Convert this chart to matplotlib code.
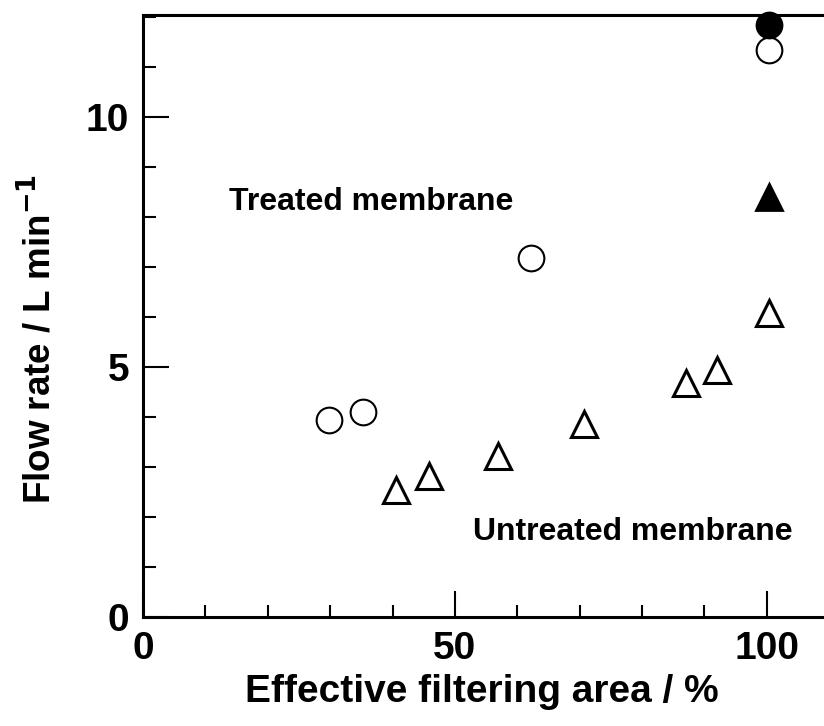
import matplotlib
matplotlib.use("Agg")
import matplotlib.pyplot as plt
from matplotlib.ticker import MultipleLocator

# Data
treated_open_x = [29.8, 35.3, 62.2, 100.3]
treated_open_y = [3.95, 4.10, 7.18, 11.34]
treated_filled_x = [100.3]
treated_filled_y = [11.84]
untreated_open_x = [40.5, 45.8, 56.9, 70.7, 87.0, 92.0, 100.3]
untreated_open_y = [2.54, 2.82, 3.22, 3.86, 4.68, 4.94, 6.08]
untreated_filled_x = [100.3]
untreated_filled_y = [8.40]

x_ticks = [0, 50, 100]
y_ticks = [0, 5, 10]

plt.rcParams['font.family'] = ['Liberation Sans', 'DejaVu Sans']
plt.rcParams['font.weight'] = 'bold'
plt.rcParams['mathtext.default'] = 'bf'

fig = plt.figure(figsize=(8.24, 7.26), dpi=100)
ax = fig.add_axes([143/824, 109/726, (823-143)/824, (617-15)/726])

ax.plot(treated_open_x, treated_open_y, 'o', ms=18.5, mfc='white', mec='black', mew=1.5, clip_on=False, zorder=3)
ax.plot(treated_filled_x, treated_filled_y, 'o', ms=18.5, mfc='black', mec='black', mew=1.5, clip_on=False, zorder=3)
ax.plot(untreated_open_x, untreated_open_y, '^', ms=19, mfc='white', mec='black', mew=2.2, clip_on=False, zorder=3)
ax.plot(untreated_filled_x, untreated_filled_y, '^', ms=19, mfc='black', mec='black', mew=2.0, clip_on=False, zorder=3)

ax.set_xlim(0, 109)
ax.set_ylim(0, 12.05)

ax.text(13.8, 8.3, 'Treated membrane', fontsize=23, fontweight='bold', va='center', ha='left')
ax.text(52.9, 1.7, 'Untreated membrane', fontsize=23, fontweight='bold', va='center', ha='left')

ax.set_xticks(x_ticks)
ax.set_yticks(y_ticks)
ax.xaxis.set_minor_locator(MultipleLocator(10))
ax.yaxis.set_minor_locator(MultipleLocator(1))
ax.tick_params(which='major', direction='in', length=19, width=1.5, labelsize=28, pad=10)
ax.tick_params(which='minor', direction='in', length=9, width=1.5)
ax.tick_params(axis='x', which='both', top=False)
ax.tick_params(axis='y', which='both', right=False)
for lab in ax.get_xticklabels() + ax.get_yticklabels():
    lab.set_fontweight('bold')

for s in ['left', 'bottom', 'top']:
    ax.spines[s].set_linewidth(2.2)
ax.spines['right'].set_visible(False)

ax.set_xlabel('Effective filtering area / %', fontsize=28, fontweight='bold')
ax.xaxis.set_label_coords((482-143)/680, -(692-617)/602)
ax.set_ylabel('Flow rate / L min$^{-1}$', fontsize=26.5, fontweight='bold')
ax.yaxis.set_label_coords(-(143-39)/680, (617-339)/602)
ax.xaxis.label.set_va('center')
ax.yaxis.label.set_va('center')

fig.savefig('out.png', dpi=100)
